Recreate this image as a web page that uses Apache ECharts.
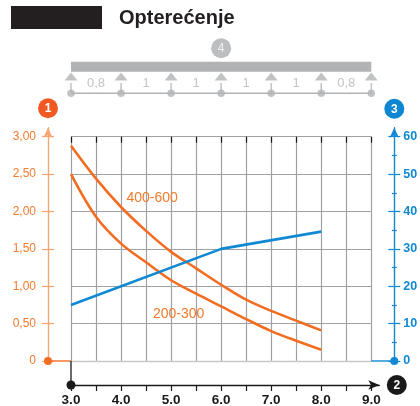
<!DOCTYPE html>
<html>
<head>
<meta charset="utf-8">
<script src="https://cdn.jsdelivr.net/npm/echarts@6/dist/echarts.min.js"></script>
<style>
  html, body { margin: 0; padding: 0; background: #ffffff; }
  #chart { width: 420px; height: 406px; }
</style>
</head>
<body>
<div id="chart"></div>
<script>
// Span length (m) sampled every 0.5 m
const spanLength = [3.0, 3.5, 4.0, 4.5, 5.0, 5.5, 6.0, 6.5, 7.0, 7.5, 8.0];
// Permitted load (left axis) for the two profile groups
const load400to600 = [2.88, 2.44, 2.06, 1.74, 1.46, 1.24, 1.02, 0.82, 0.67, 0.54, 0.41];
const load200to300 = [2.50, 1.93, 1.57, 1.32, 1.08, 0.90, 0.73, 0.56, 0.40, 0.27, 0.15];
// Right-axis curve
const rightCurveX = [3.0, 6.0, 8.0];
const rightCurveY = [15, 30, 34.6];

// Axis ticks and labels
const xTicks = [3.0, 3.5, 4.0, 4.5, 5.0, 5.5, 6.0, 6.5, 7.0, 7.5, 8.0, 8.5, 9.0];
const xLabels = [3.0, 4.0, 5.0, 6.0, 7.0, 8.0, 9.0];
const leftTicks = [0, 0.5, 1.0, 1.5, 2.0, 2.5, 3.0];
const rightMajorTicks = [0, 10, 20, 30, 40, 50, 60];
const rightMinorTicks = [5, 15, 25, 35, 45, 55];

// Support scheme above the chart
const supports = [3, 4, 5, 6, 7, 8, 9];
const spanFactors = ['0,8', '1', '1', '1', '1', '0,8'];

const FONT = '"Liberation Sans", Arial, Helvetica, sans-serif';
const ORANGE = '#f26d21';
const ORANGE_TXT = '#f47a2c';
const ORANGE_AXIS = '#f8a571';
const BLUE = '#0f89d3';
const GRID_C = '#9ea2a7';
const BEAM_C = '#b2b3b5';

// Plot area geometry
const GL = 71, GT = 136.7, GW = 300.3, GH = 224.3;
const PX_X = GW / 6;       // pixels per metre
const PX_Y = GH / 3;       // pixels per load unit
const AX_GAP = 23;         // distance of side axes from the plot area
const AX_GAP_B = 24;       // distance of the bottom axis
const ARROW_V = 9;         // vertical axis extension for arrow heads
const ARROW_H = 8;         // horizontal axis extension for arrow head

const leftFmt = v => v === 0 ? '0' : v.toFixed(2).replace('.', ',');

const chart = echarts.init(document.getElementById('chart'), null, { renderer: 'canvas' });

const hidden = { show: false };
const noSplit = { show: false };

const grids = [
  // 0: plot area
  { left: GL, top: GT, width: GW, height: GH, outerBoundsMode: 'none' },
  // 1: bottom axis (extended to the right for the arrow)
  { left: GL, top: GT, width: GW + ARROW_H, height: GH + AX_GAP_B, outerBoundsMode: 'none' },
  // 2: side axes (extended upward for the arrows)
  { left: GL, top: GT - ARROW_V, width: GW, height: GH + ARROW_V, outerBoundsMode: 'none' },
  // 3: support scheme
  { left: GL, top: 40, width: GW, height: 60, outerBoundsMode: 'none' }
];

const xAxes = [
  { gridIndex: 0, type: 'value', min: 3, max: 9, interval: 0.5,
    axisLine: hidden, axisTick: hidden, axisLabel: hidden,
    splitLine: { show: true, lineStyle: { color: GRID_C, width: 1.2 } } },
  { gridIndex: 0, type: 'value', position: 'top', offset: 20.7, min: 3, max: 9,
    axisLine: { show: true, lineStyle: { color: '#c8c9cb', width: 1.3 } },
    axisTick: hidden, axisLabel: hidden, splitLine: noSplit },
  { gridIndex: 1, type: 'value', min: 3, max: 9 + ARROW_H / PX_X,
    axisLine: { show: true, symbol: ['none', 'arrow'], symbolSize: [7, 11],
      lineStyle: { color: '#1a1a1a', width: 1.3 } },
    axisTick: { show: true, customValues: xTicks, length: 6, lineStyle: { color: '#1a1a1a', width: 1.2 } },
    axisLabel: { show: true, customValues: xLabels, margin: 8, formatter: v => v.toFixed(1),
      color: '#1a1a1a', fontSize: 13.5, fontWeight: 'bold', fontFamily: FONT },
    splitLine: noSplit },
  { gridIndex: 1, type: 'value', min: 3, max: 9 + ARROW_H / PX_X,
    axisLine: hidden,
    axisTick: { show: true, inside: true, customValues: xTicks, length: 6, lineStyle: { color: '#1a1a1a', width: 1.2 } },
    axisLabel: hidden, splitLine: noSplit },
  { gridIndex: 2, type: 'value', min: 3, max: 9, show: false },
  { gridIndex: 3, type: 'value', min: 3, max: 9, show: false }
];

const vMax = 3 + ARROW_V / PX_Y;
const yAxes = [
  { gridIndex: 0, type: 'value', min: 0, max: 3, interval: 0.5,
    axisLine: hidden, axisTick: hidden, axisLabel: hidden,
    splitLine: { show: true, lineStyle: { color: GRID_C, width: 1.2 } } },
  { gridIndex: 0, type: 'value', min: 0, max: 60, show: false, splitLine: noSplit },
  { gridIndex: 1, type: 'value', min: 0, max: 1, show: false },
  // left load axis
  { gridIndex: 2, type: 'value', position: 'left', offset: AX_GAP, min: 0, max: vMax,
    axisLine: { show: true, symbol: ['none', 'arrow'], symbolSize: [7, 10],
      lineStyle: { color: ORANGE_AXIS, width: 1.4 } },
    axisTick: { show: true, customValues: leftTicks, length: 6, lineStyle: { color: ORANGE_AXIS, width: 1.2 } },
    axisLabel: { show: true, customValues: leftTicks, margin: 12, formatter: leftFmt,
      color: ORANGE_TXT, fontSize: 12, fontFamily: FONT },
    splitLine: noSplit },
  { gridIndex: 2, type: 'value', position: 'left', offset: AX_GAP, min: 0, max: vMax,
    axisLine: hidden,
    axisTick: { show: true, inside: true, customValues: leftTicks, length: 6, lineStyle: { color: ORANGE_AXIS, width: 1.2 } },
    axisLabel: hidden, splitLine: noSplit },
  // right axis
  { gridIndex: 2, type: 'value', position: 'right', offset: AX_GAP, min: 0, max: vMax * 20,
    axisLine: { show: true, symbol: ['none', 'arrow'], symbolSize: [7, 10],
      lineStyle: { color: BLUE, width: 1.4 } },
    axisTick: { show: true, customValues: rightMajorTicks, length: 6, lineStyle: { color: BLUE, width: 1.2 } },
    axisLabel: { show: true, customValues: rightMajorTicks, margin: 9,
      color: BLUE, fontSize: 12.5, fontWeight: 'bold', fontFamily: FONT },
    splitLine: noSplit },
  { gridIndex: 2, type: 'value', position: 'right', offset: AX_GAP, min: 0, max: vMax * 20,
    axisLine: hidden,
    axisTick: { show: true, inside: true, customValues: rightMajorTicks, length: 6, lineStyle: { color: BLUE, width: 1.2 } },
    axisLabel: hidden, splitLine: noSplit },
  { gridIndex: 2, type: 'value', position: 'right', offset: AX_GAP, min: 0, max: vMax * 20,
    axisLine: hidden,
    axisTick: { show: true, customValues: rightMinorTicks, length: 2.5, lineStyle: { color: BLUE, width: 1.2 } },
    axisLabel: hidden, splitLine: noSplit },
  { gridIndex: 2, type: 'value', position: 'right', offset: AX_GAP, min: 0, max: vMax * 20,
    axisLine: hidden,
    axisTick: { show: true, inside: true, customValues: rightMinorTicks, length: 2.5, lineStyle: { color: BLUE, width: 1.2 } },
    axisLabel: hidden, splitLine: noSplit },
  // support scheme (rows measured down from the top of the strip)
  { gridIndex: 3, type: 'value', min: 0, max: 60, inverse: true, show: false }
];

const pairs = (xs, ys) => xs.map((x, i) => [x, ys[i]]);

// Rows of the support scheme
const ROW_BEAM = 26.7, ROW_TRI = 36.4, ROW_STEM = 47.5, ROW_FACTOR = 43.3, ROW_DOT = 53.3, ROW_BADGE = 8.3;
const midpoints = supports.slice(0, -1).map((s, i) => (s + supports[i + 1]) / 2);
const beamBase = { xAxisIndex: 5, yAxisIndex: 9, silent: true, animation: false };

const series = [
  { name: '400-600', type: 'line', xAxisIndex: 0, yAxisIndex: 0, smooth: 0.35, symbol: 'none',
    data: pairs(spanLength, load400to600), lineStyle: { color: ORANGE, width: 2.6 }, z: 5,
    markPoint: { symbol: 'circle', symbolSize: 0, silent: true,
      label: { show: true, position: 'inside', formatter: '400-600', color: ORANGE_TXT, fontSize: 14, fontFamily: FONT },
      data: [{ coord: [4.62, 2.18] }] } },
  { name: '200-300', type: 'line', xAxisIndex: 0, yAxisIndex: 0, smooth: 0.35, symbol: 'none',
    data: pairs(spanLength, load200to300), lineStyle: { color: ORANGE, width: 2.6 }, z: 5,
    markPoint: { symbol: 'circle', symbolSize: 0, silent: true,
      label: { show: true, position: 'inside', formatter: '200-300', color: ORANGE_TXT, fontSize: 14, fontFamily: FONT },
      data: [{ coord: [5.15, 0.63] }] } },
  { name: 'right', type: 'line', xAxisIndex: 0, yAxisIndex: 1, symbol: 'none',
    data: pairs(rightCurveX, rightCurveY), lineStyle: { color: BLUE, width: 2.6 }, z: 6 },

  // support scheme
  Object.assign({ type: 'line', symbol: 'none', data: [[supports[0], ROW_BEAM], [supports[supports.length - 1], ROW_BEAM]],
    lineStyle: { color: BEAM_C, width: 10, cap: 'butt' } }, beamBase),
  Object.assign({ type: 'line', symbol: 'none', data: supports.map(s => [s, ROW_DOT]),
    lineStyle: { color: BEAM_C, width: 1.4 } }, beamBase),
  Object.assign({ type: 'scatter', symbol: 'triangle', symbolSize: [13, 8], data: supports.map(s => [s, ROW_TRI]),
    itemStyle: { color: BEAM_C } }, beamBase),
  Object.assign({ type: 'scatter', symbol: 'rect', symbolSize: [1.5, 9], data: supports.map(s => [s, ROW_STEM]),
    itemStyle: { color: BEAM_C } }, beamBase),
  Object.assign({ type: 'scatter', symbol: 'circle', symbolSize: 7.5, data: supports.map(s => [s, ROW_DOT]),
    itemStyle: { color: BEAM_C }, z: 4 }, beamBase),
  Object.assign({ type: 'scatter', symbolSize: 0, data: midpoints.map((m, i) => ({ value: [m, ROW_FACTOR], name: spanFactors[i] })),
    label: { show: true, position: 'inside', formatter: p => p.name, color: '#b4b5b7', fontSize: 13, fontFamily: FONT } }, beamBase),
  Object.assign({ type: 'scatter', symbol: 'circle', symbolSize: 20,
    data: [{ value: [(supports[0] + supports[supports.length - 1]) / 2, ROW_BADGE], name: '4' }],
    itemStyle: { color: '#adaeb0' },
    label: { show: true, position: 'inside', formatter: p => p.name, color: '#ffffff', fontSize: 12, fontFamily: FONT } }, beamBase)
];

chart.setOption({
  animation: false,
  backgroundColor: '#ffffff',
  textStyle: { fontFamily: FONT },
  title: { text: 'Opterećenje', left: 114, top: 3,
    textStyle: { color: '#231f20', fontSize: 20, fontWeight: 'bold', fontFamily: FONT } },
  grid: grids,
  xAxis: xAxes,
  yAxis: yAxes,
  series: series
});

// Frame details: axis origins, connectors and numbered badges
function badge(cx, cy, color, text) {
  return [
    { type: 'circle', shape: { cx: cx, cy: cy, r: 10 }, style: { fill: color }, z: 20 },
    { type: 'text', x: cx, y: cy + 0.5, style: { text: text, fill: '#ffffff', font: 'bold 12px ' + FONT,
      align: 'center', verticalAlign: 'middle' }, z: 21 }
  ];
}

const o = chart.convertToPixel({ gridIndex: 0 }, [3, 0]);
const t = chart.convertToPixel({ gridIndex: 0 }, [9, 3]);
const lx = o[0] - AX_GAP, rx = t[0] + AX_GAP, by = o[1] + AX_GAP_B;

const elements = [
  { type: 'rect', shape: { x: 11, y: 6, width: 91, height: 23 }, style: { fill: '#231f20' } },
  { type: 'line', shape: { x1: lx, y1: o[1], x2: o[0], y2: o[1] }, style: { stroke: ORANGE, lineWidth: 1.4 }, z: 10 },
  { type: 'circle', shape: { cx: lx, cy: o[1], r: 4 }, style: { fill: ORANGE }, z: 11 },
  { type: 'line', shape: { x1: t[0], y1: o[1], x2: rx, y2: o[1] }, style: { stroke: BLUE, lineWidth: 1.4 }, z: 10 },
  { type: 'circle', shape: { cx: rx, cy: o[1], r: 4 }, style: { fill: BLUE }, z: 11 },
  { type: 'line', shape: { x1: o[0], y1: o[1], x2: o[0], y2: by }, style: { stroke: '#1a1a1a', lineWidth: 1.3 }, z: 10 },
  { type: 'circle', shape: { cx: o[0], cy: by, r: 4.5 }, style: { fill: '#1a1a1a' }, z: 11 }
]
  .concat(badge(lx, t[1] - 28.5, '#f05a22', '1'))
  .concat(badge(rx, t[1] - 28, '#0d87d2', '3'))
  .concat(badge(rx + 2.5, by, '#1a1a1a', '2'));

chart.setOption({ graphic: { elements: elements } });
</script>
</body>
</html>
